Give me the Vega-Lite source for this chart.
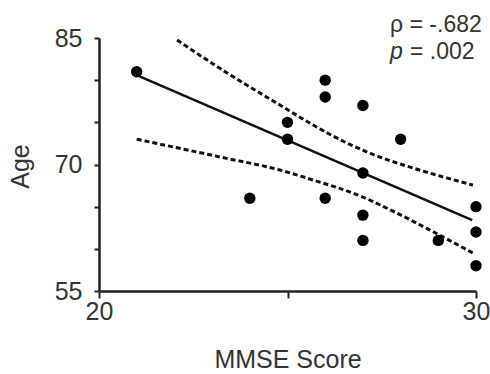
{
  "$schema": "https://vega.github.io/schema/vega-lite/v6.json",
  "width": 377,
  "height": 253,
  "autosize": "none",
  "padding": {"left": 99, "top": 38, "right": 14, "bottom": 83},
  "background": "white",
  "config": {
    "view": {"stroke": null},
    "font": "Liberation Sans",
    "axis": {
      "grid": false,
      "domainColor": "#222",
      "domainWidth": 2.5,
      "tickColor": "#222",
      "tickWidth": 2,
      "labelColor": "#333",
      "titleColor": "#333",
      "labelFont": "Liberation Sans",
      "titleFont": "Liberation Sans",
      "labelFontSize": 25,
      "titleFontSize": 25,
      "titleFontWeight": "normal"
    }
  },
  "datasets": {
    "points": [
      {"mmse": 21, "age": 81},
      {"mmse": 24, "age": 66},
      {"mmse": 25, "age": 75},
      {"mmse": 25, "age": 73},
      {"mmse": 26, "age": 80},
      {"mmse": 26, "age": 78},
      {"mmse": 26, "age": 66},
      {"mmse": 27, "age": 77},
      {"mmse": 27, "age": 69},
      {"mmse": 27, "age": 64},
      {"mmse": 27, "age": 61},
      {"mmse": 28, "age": 73},
      {"mmse": 29, "age": 61},
      {"mmse": 30, "age": 65},
      {"mmse": 30, "age": 62},
      {"mmse": 30, "age": 58}
    ],
    "fit": [
      {"mmse": 21, "age": 80.6},
      {"mmse": 29.9, "age": 63.4}
    ],
    "upper": [
      {"mmse": 22.07, "age": 84.76},
      {"mmse": 23.4, "age": 80.85},
      {"mmse": 24.8, "age": 77.05},
      {"mmse": 25.68, "age": 74.68},
      {"mmse": 26.58, "age": 72.54},
      {"mmse": 27.45, "age": 70.88},
      {"mmse": 28.33, "age": 69.58},
      {"mmse": 29.92, "age": 67.56}
    ],
    "lower": [
      {"mmse": 21.0, "age": 73.0},
      {"mmse": 23.2, "age": 70.9},
      {"mmse": 24.8, "age": 69.34},
      {"mmse": 25.68, "age": 68.16},
      {"mmse": 27.0, "age": 66.14},
      {"mmse": 27.9, "age": 64.24},
      {"mmse": 28.78, "age": 62.22},
      {"mmse": 29.92, "age": 59.5}
    ],
    "stats": [
      {"label": "ρ = -.682", "mmse": 27.72, "age": 85.75}
    ],
    "pstat": [
      {"sym": "p", "rest": "= .002", "mmse": 27.72, "mmse2": 28.25, "age": 82.5}
    ]
  },
  "encoding": {
    "x": {
      "field": "mmse",
      "type": "quantitative",
      "scale": {"domain": [20, 30], "nice": false, "zero": false},
      "axis": {
        "title": "MMSE Score",
        "values": [20, 25, 30],
        "labelExpr": "datum.value == 25 ? '' : datum.label",
        "tickSize": 7,
        "labelPadding": 1,
        "titleY": 68,
        "titleBaseline": "middle",
        "labelFlush": false
      }
    },
    "y": {
      "field": "age",
      "type": "quantitative",
      "scale": {"domain": [55, 85], "nice": false, "zero": false},
      "axis": {
        "title": "Age",
        "values": [55, 60, 65, 70, 75, 80, 85],
        "labelExpr": "datum.value == 55 || datum.value == 70 || datum.value == 85 ? datum.label : ''",
        "tickSize": 5,
        "labelPadding": 12,
        "titleX": -79,
        "titleY": 128,
        "titleBaseline": "middle",
        "labelFlush": false
      }
    }
  },
  "layer": [
    {
      "data": {"name": "upper"},
      "mark": {"type": "line", "color": "#111", "strokeWidth": 3, "strokeDash": [5, 3], "interpolate": "monotone"}
    },
    {
      "data": {"name": "lower"},
      "mark": {"type": "line", "color": "#111", "strokeWidth": 3, "strokeDash": [5, 3], "interpolate": "monotone"}
    },
    {
      "data": {"name": "fit"},
      "mark": {"type": "line", "color": "#111", "strokeWidth": 2.5}
    },
    {
      "data": {"name": "points"},
      "mark": {"type": "circle", "color": "#000", "opacity": 1, "size": 130}
    },
    {
      "data": {"name": "stats"},
      "mark": {"type": "text", "align": "left", "baseline": "alphabetic", "fontSize": 23, "color": "#333", "font": "Liberation Sans"},
      "encoding": {"text": {"field": "label"}}
    },
    {
      "data": {"name": "pstat"},
      "mark": {"type": "text", "align": "left", "baseline": "alphabetic", "fontSize": 23, "fontStyle": "italic", "color": "#333", "font": "Liberation Sans"},
      "encoding": {"text": {"field": "sym"}}
    },
    {
      "data": {"name": "pstat"},
      "mark": {"type": "text", "align": "left", "baseline": "alphabetic", "fontSize": 23, "color": "#333", "font": "Liberation Sans"},
      "encoding": {
        "x": {"field": "mmse2", "type": "quantitative"},
        "text": {"field": "rest"}
      }
    }
  ]
}
